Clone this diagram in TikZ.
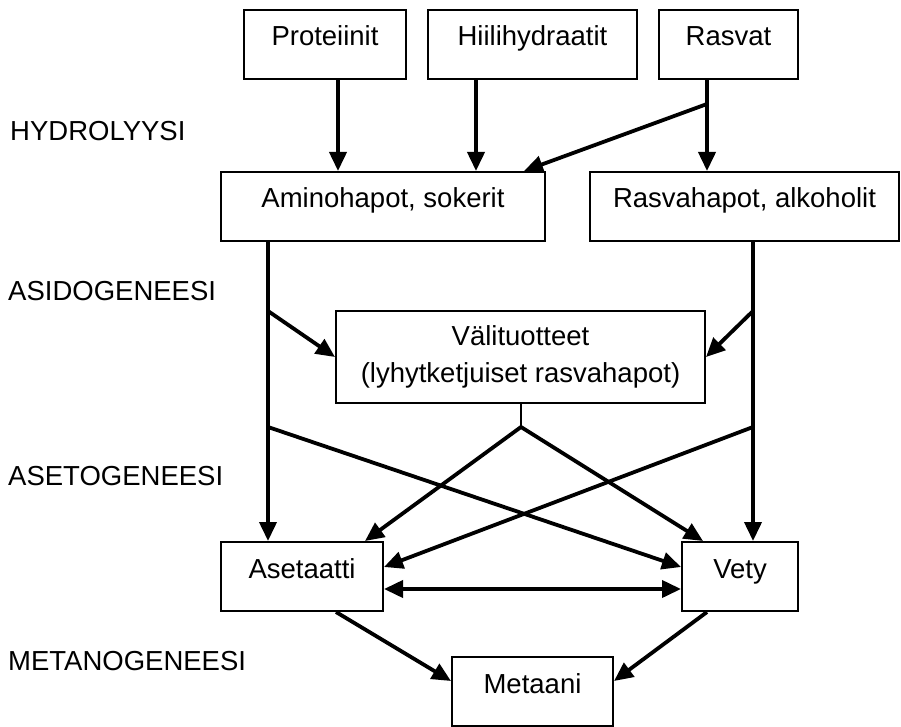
\documentclass[tikz,border=0pt]{standalone}
\usepackage{fontspec}
\setmainfont{Liberation Sans}
\usetikzlibrary{arrows.meta}
\begin{document}
\begin{tikzpicture}[x=1pt,y=-1pt,
  box/.style={draw, line width=2pt, inner sep=0pt, minimum height=69pt,
    text height=20pt, text depth=17pt, font=\fontsize{27.5}{33}\selectfont},
  boxtwo/.style={draw, line width=2pt, inner sep=0pt, align=center,
    font=\fontsize{27.5}{37}\selectfont},
  arr/.style={line width=3.8pt, -{Triangle[length=19pt,width=17pt]}},
  arrboth/.style={line width=3.8pt, {Triangle[length=19pt,width=17pt]}-{Triangle[length=19pt,width=17pt]}},
  thinline/.style={line width=1.7pt},
  lab/.style={anchor=base west, inner sep=0pt, font=\fontsize{27.5}{33}\selectfont}]
\useasboundingbox (0,0) rectangle (901,727);
\fill[white] (0,0) rectangle (901,727);

% boxes
\node[box, minimum width=162pt] (prot) at (325,44.5) {Proteiinit};
\node[box, minimum width=209pt] (hiili) at (532.5,44.5) {Hiilihydraatit};
\node[box, minimum width=139pt] (rasv) at (728.5,44.5) {Rasvat};
\node[box, minimum width=324pt] (amino) at (383,206.5) {Aminohapot, sokerit};
\node[box, minimum width=309pt] (rasvah) at (744.5,206.5) {Rasvahapot, alkoholit};
\node[boxtwo, minimum width=369pt, minimum height=92pt] (vali) at (520.5,357) {Välituotteet\\(lyhytketjuiset rasvahapot)};
\node[box, minimum width=162pt] (aset) at (302,576.5) {Asetaatti};
\node[box, minimum width=116pt] (vety) at (740,576.5) {Vety};
\node[box, minimum width=161pt] (met) at (532.5,691.5) {Metaani};

% stage labels
\node[lab] (hyd) at (10,141) {HYDROLYYSI};
\node[lab] (asi) at (8,300) {ASIDOGENEESI};
\node[lab] (aseto) at (8,485) {ASETOGENEESI};
\node[lab] (metano) at (8,670) {METANOGENEESI};

% guide coordinates
\coordinate (xP) at (338,0);
\coordinate (xH) at (476,0);
\coordinate (xR) at (707,0);
\coordinate (xA) at (524,0);
\coordinate (xL) at (268,0);
\coordinate (xRt) at (753,0);
\coordinate (xS) at (521,0);
\coordinate (xAs) at (365,0);
\coordinate (xVt) at (703,0);
\coordinate (xAb) at (336,0);
\coordinate (xVb) at (707,0);
\coordinate (yB) at (0,104);
\coordinate (y1) at (0,311);
\coordinate (y2) at (0,427);
\coordinate (yIn) at (0,567);
\coordinate (yBi) at (0,589);
\coordinate (yM) at (0,681);

\coordinate (rb) at (xR |- yB);
\coordinate (l1) at (xL |- y1);
\coordinate (l2) at (xL |- y2);
\coordinate (r1) at (xRt |- y1);
\coordinate (r2) at (xRt |- y2);
\coordinate (apex) at (xS |- y2);

% hydrolysis
\draw[arr] (prot.south -| xP) -- (amino.north -| xP);
\draw[arr] (hiili.south -| xH) -- (amino.north -| xH);
\draw[arr] (rasv.south -| xR) -- (rasvah.north -| xR);
\draw[arr] (rb) -- (amino.north -| xA);

% acidogenesis
\draw[arr] (amino.south -| xL) -- (aset.north -| xL);
\draw[arr] (rasvah.south -| xRt) -- (vety.north -| xRt);
\draw[arr] (l1) -- (vali.west);
\draw[arr] (r1) -- (vali.east);

% acetogenesis
\draw[thinline] (vali.south -| xS) -- (apex);
\draw[arr] (apex) -- (aset.north -| xAs);
\draw[arr] (apex) -- (vety.north -| xVt);
\draw[arr] (l2) -- (vety.west |- yIn);
\draw[arr] (r2) -- (aset.east |- yIn);
\draw[arrboth] (aset.east |- yBi) -- (vety.west |- yBi);

% methanogenesis
\draw[arr] (aset.south -| xAb) -- (met.west |- yM);
\draw[arr] (vety.south -| xVb) -- (met.east |- yM);
\end{tikzpicture}
\end{document}
